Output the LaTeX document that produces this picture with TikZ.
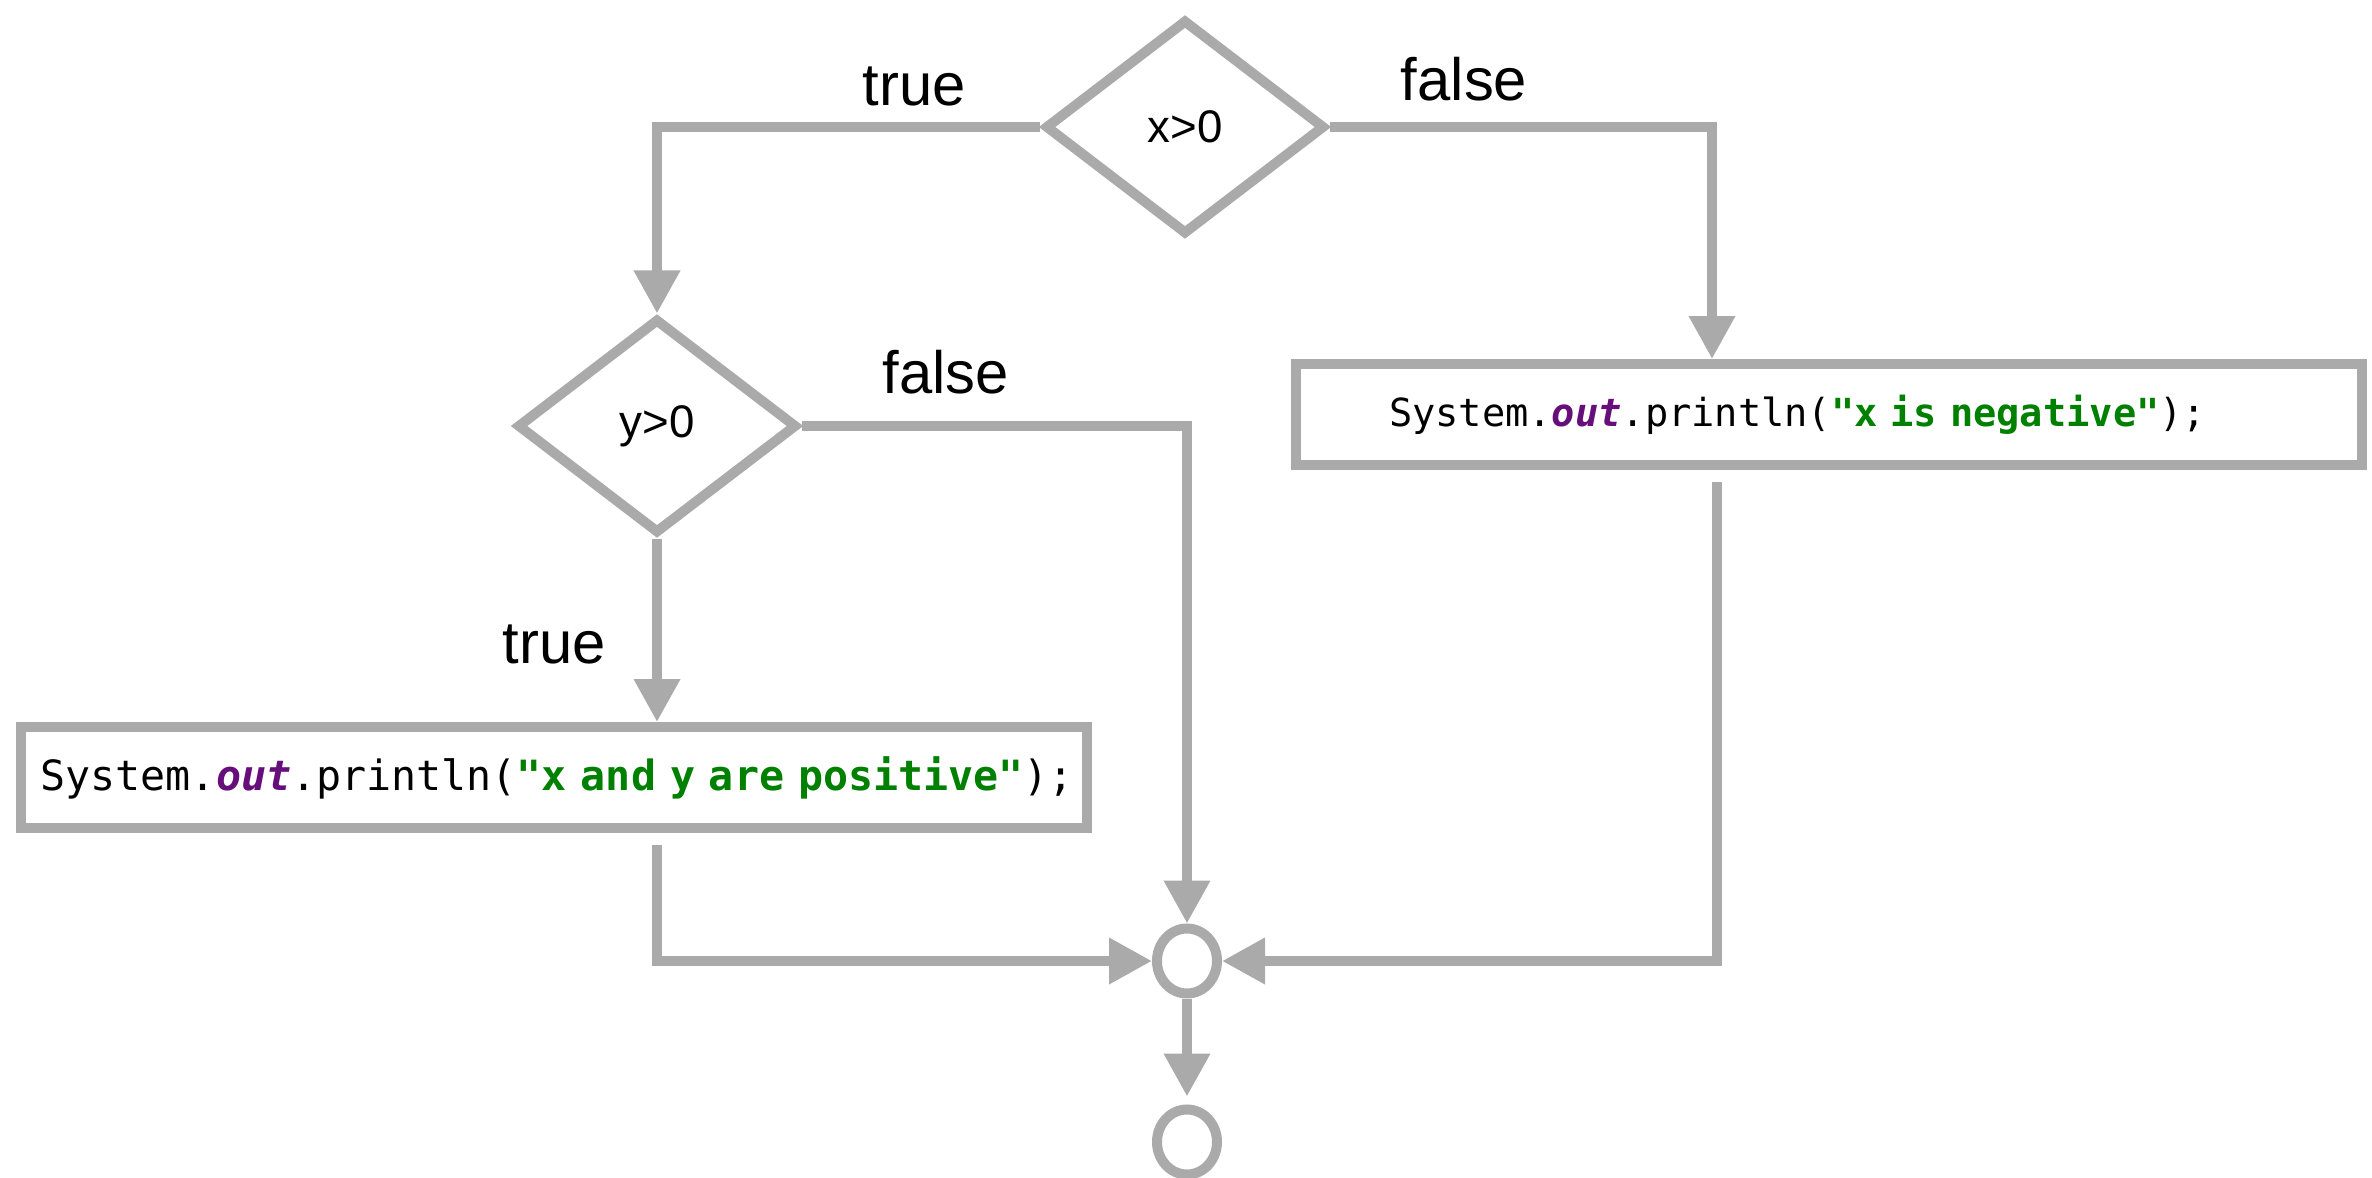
\documentclass[tikz,border=0pt]{standalone}
\usepackage{fontspec}
\setmainfont{Liberation Sans}
\setmonofont{DejaVu Sans Mono}
\usetikzlibrary{arrows.meta,shapes.geometric}
\definecolor{flowgray}{HTML}{AAAAAA}
\definecolor{fieldpurple}{HTML}{660E7A}
\definecolor{strgreen}{HTML}{008000}
\newcommand{\jfield}[1]{\textcolor{fieldpurple}{\bfseries\itshape #1}}
\newcommand{\jstr}[1]{\textcolor{strgreen}{\bfseries #1}}

\begin{document}
\begin{tikzpicture}[>={Triangle[width=4.4mm,length=4.3mm]},
  every node/.style={font=\fontsize{17}{20}\selectfont},
  flow/.style={draw=flowgray,line width=1mm},
  test/.style={diamond,draw=flowgray,line width=1mm,inner sep=0pt,minimum width=2.8cm,minimum height=2.15cm,font=\fontsize{13}{15}\selectfont},
  code/.style={rectangle,draw=flowgray,line width=1mm,minimum width=10.66cm,minimum height=1.01cm,align=left},
  joint/.style={ellipse,draw=flowgray,line width=1mm,minimum width=6mm,minimum height=6.5mm,inner sep=0pt}]
  \useasboundingbox (0,0) rectangle (23.72,-11.78);
  \node[test] (xpos) at (11.85,-1.27) {x>0};
  \node[test] (ypos) at (6.57,-4.26) {y>0};
  \node[code,inner xsep=2mm,text width=10.26cm,font=\ttfamily\fontsize{11.85}{13}\selectfont] (pos) at (5.535,-7.775)
    {\mbox{System.\jfield{out}.println(\jstr{"x and y are positive"});}};
  \node[code,inner xsep=9.3mm,text width=8.8cm,font=\ttfamily\fontsize{11}{13}\selectfont] (neg) at (18.29,-4.145)
    {\mbox{System.\jfield{out}.println(\jstr{"x is negative"});}};
  \node[joint] (merge) at (11.87,-9.61) {};
  \node[joint] (end) at (11.87,-11.42) {};
  % labels
  \node[anchor=base] (ltx) at (9.14,-1.06) {true};
  \node[anchor=base] (lfx) at (14.64,-1.01) {false};
  \node[anchor=base] (lfy) at (9.46,-3.93) {false};
  \node[anchor=base] (lty) at (5.54,-6.63) {true};
  % connectors
  \draw[flow,->] (xpos.west) -| (ypos.north);
  \draw[flow,->] (xpos.east) -| ([xshift=-11.7mm]neg.north);
  \draw[flow,->] (ypos.south) -- (ypos.south |- pos.north);
  \draw[flow,->] (ypos.east) -| (merge.north);
  \draw[flow,->,shorten <=1.2mm] (pos.south -| ypos.south) |- (merge.west);
  \draw[flow,->,shorten <=1.2mm] ([xshift=-11.2mm]neg.south) |- (merge.east);
  \draw[flow,->,shorten >=0.8mm] (merge.south) -- (end.north);
\end{tikzpicture}
\end{document}
